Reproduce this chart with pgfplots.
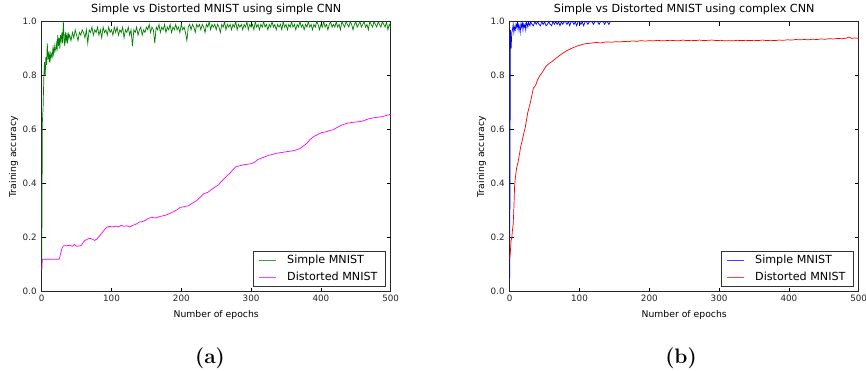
\documentclass[border=0pt]{standalone}
\usepackage{pgfplots}
\pgfplotsset{compat=1.18}
\usepackage{fontspec}
\newfontfamily\dejavu{DejaVu Sans}
\definecolor{mplgreen}{rgb}{0,0.5,0}
\definecolor{mplmag}{rgb}{1,0,1}
\definecolor{mplblue}{rgb}{0,0,1}
\definecolor{mplred}{rgb}{1,0,0}
\pgfplotsset{
  mnist/.style={
    scale only axis, width=349bp, height=270bp,
    xmin=0, xmax=500, ymin=0, ymax=1,
    xtick={0,100,200,300,400,500},
    ytick={0,0.2,0.4,0.6,0.8,1.0},
    minor tick num=0,
    tick align=inside, major tick length=4bp,
    every tick/.style={black, line width=0.6bp},
    axis line style={line width=0.8bp, black!85},
    /pgf/number format/assume math mode=true,
    yticklabel style={/pgf/number format/fixed, /pgf/number format/fixed zerofill, /pgf/number format/precision=1, xshift=-1.5bp},
    tick label style={font=\dejavu\fontsize{8.8}{10}\selectfont, black!85},
    label style={font=\dejavu\fontsize{9.3}{11}\selectfont},
    xlabel style={at={(axis description cs:0.5,-0.0956)}, anchor=base},
    ylabel style={at={(axis description cs:-0.0736,0.5)}, anchor=base},
    title style={at={(axis description cs:0.5,1.0126)}, anchor=base, inner sep=0pt, font=\dejavu\fontsize{11.2}{13}\selectfont},
    xlabel={Number of epochs}, ylabel={Training accuracy},
    legend cell align=left,
    legend image code/.code={\draw[line width=0.9bp, opacity=0.75] (0cm,0cm) -- (0.6cm,0cm);},
    legend style={at={(axis description cs:0.9857,0.0185)}, anchor=south east,
      font=\dejavu\fontsize{11.2}{13}\selectfont, draw=black!80, line width=0.8bp,
      inner xsep=5.5bp, inner ysep=2.5bp, row sep=3.2bp, column sep=8bp,
      nodes={inner xsep=2.3bp, inner ysep=1.5bp, text height=8.2bp, text depth=2.3bp}},
    every axis plot/.append style={line width=0.7bp, no markers},
  }
}
\begin{document}
\begin{tikzpicture}
\useasboundingbox (-41.7bp,-79.3bp) rectangle (824.3bp,291.7bp);
\begin{axis}[mnist, at={(0,0)}, anchor=south west,
  title={Simple vs Distorted MNIST using simple CNN}]
\addplot[mplgreen] coordinates {
(0,0.08)(1,0.63)(2,0.68)(3,0.79)(4,0.85)(5,0.80)(6,0.87)(7,0.84)(8,0.92)(9,0.86)
(10,0.88)(11,0.85)(12,0.89)(13,0.86)(14,0.88)(15,0.87)(16,0.90)(17,0.88)(18,0.91)(19,0.89)
(20,0.90)(21,0.92)(22,0.89)(23,0.95)(24,0.91)(25,0.94)(26,0.90)(27,0.95)(28,0.93)(29,0.96)
(30,0.92)(31,1.00)(32,0.94)(33,0.91)(34,0.96)(35,0.93)(36,0.95)(37,0.92)(38,0.96)(39,0.94)
(40,0.95)(42,0.93)(44,0.96)(46,0.94)(48,0.97)(50,0.95)(52,0.93)(54,0.96)(56,0.95)(58,0.97)
(60,0.96)(62,0.94)(64,0.97)(66,0.92)(68,0.97)(70,0.96)(72,0.98)(74,0.95)(76,0.97)(78,0.96)
(80,0.98)(82,0.95)(84,0.97)(86,0.94)(88,0.98)(90,0.96)(92,0.97)(94,0.95)(96,0.98)(98,0.96)
(100,0.97)(102,0.95)(104,0.98)(106,0.96)(108,0.98)(110,0.95)(112,0.97)(114,0.96)(116,0.98)(118,0.94)
(120,0.97)(122,0.96)(124,0.98)(126,0.95)(128,0.97)(130,0.91)(132,0.97)(134,0.96)(136,0.98)(138,0.95)
(140,0.97)(142,0.98)(144,0.95)(146,0.97)(148,0.96)(150,0.98)(152,0.97)(154,0.99)(156,0.96)(158,0.98)
(160,0.97)(162,0.92)(164,0.98)(166,0.97)(168,0.99)(170,0.96)(172,0.98)(174,0.97)(176,0.99)(178,0.96)
(180,0.98)(182,0.97)(184,0.99)(186,0.96)(188,0.98)(190,0.97)(192,0.99)(194,0.97)(196,0.98)(198,0.96)
(200,0.99)(202,0.97)(204,0.98)(206,0.96)(208,0.93)(210,0.98)(212,0.99)(214,0.97)(216,0.99)(218,0.98)
(220,0.96)(222,0.99)(224,0.98)(226,0.99)(228,0.97)(230,0.99)(232,0.98)(234,0.96)(236,0.99)(238,0.98)
(240,1.00)(242,0.97)(244,0.99)(246,0.98)(248,0.99)(250,0.97)(252,0.99)(254,0.98)(256,0.96)(258,0.99)
(260,0.98)(262,1.00)(264,0.97)(266,0.99)(268,0.98)(270,0.99)(272,0.97)(274,0.99)(276,0.98)(278,1.00)
(280,0.97)(282,0.99)(284,0.98)(286,0.99)(288,0.97)(290,0.99)(292,0.98)(294,1.00)(296,0.97)(298,0.99)
(300,0.98)(302,0.99)(304,0.97)(306,1.00)(308,0.98)(310,0.99)(312,0.97)(314,0.99)(316,0.98)(318,1.00)
(320,0.98)(322,0.99)(324,0.97)(326,0.99)(328,0.98)(330,1.00)(332,0.98)(334,0.99)(336,0.97)(338,0.99)
(340,0.98)(342,0.99)(344,0.97)(346,1.00)(348,0.98)(350,0.99)(352,0.97)(354,0.99)(356,0.98)(358,1.00)
(360,0.98)(362,0.99)(364,0.97)(366,0.99)(368,0.98)(370,1.00)(372,0.98)(374,0.99)(376,0.97)(378,0.99)
(380,0.98)(382,1.00)(384,0.98)(386,0.99)(388,0.97)(390,0.99)(392,0.98)(394,1.00)(396,0.99)(398,0.97)
(400,0.99)(402,0.98)(404,1.00)(406,0.98)(408,0.99)(410,0.97)(412,0.99)(414,1.00)(416,0.98)(418,0.99)
(420,0.98)(422,1.00)(424,0.98)(426,0.99)(428,0.97)(430,1.00)(432,0.99)(434,0.98)(436,1.00)(438,0.99)
(440,0.98)(442,1.00)(444,0.99)(446,0.97)(448,0.99)(450,1.00)(452,0.98)(454,0.99)(456,1.00)(458,0.98)
(460,0.99)(462,1.00)(464,0.98)(466,0.99)(468,0.97)(470,1.00)(472,0.99)(474,0.98)(476,1.00)(478,0.99)
(480,0.98)(482,1.00)(484,0.99)(486,0.98)(488,1.00)(490,0.99)(492,0.98)(494,1.00)(496,0.97)(498,0.99)
(500,0.98)
};
\addlegendentry{Simple MNIST}
\addplot[mplmag] coordinates {
(0,0.08)(1,0.12)(25,0.12)(27,0.14)(29,0.16)(31,0.17)(35,0.17)(40,0.172)(44,0.168)(47,0.175)
(50,0.168)(55,0.17)(57,0.172)(60,0.185)(62,0.19)(66,0.195)(69,0.198)(72,0.195)(76,0.19)(79,0.195)
(83,0.207)(87,0.22)(90,0.23)(93,0.238)(97,0.242)(102,0.24)(106,0.243)(110,0.24)(114,0.246)(118,0.242)
(122,0.244)(126,0.24)(130,0.245)(135,0.25)(140,0.258)(145,0.26)(149,0.265)(153,0.272)(158,0.275)(163,0.273)
(170,0.279)(177,0.283)(184,0.29)(190,0.298)(195,0.305)(198,0.312)(204,0.315)(210,0.318)(214,0.325)(217,0.33)
(222,0.337)(227,0.35)(232,0.363)(238,0.368)(243,0.378)(248,0.387)(253,0.395)(258,0.41)(262,0.42)(266,0.43)
(270,0.44)(274,0.452)(278,0.462)(283,0.466)(289,0.47)(295,0.472)(300,0.474)(305,0.48)(310,0.49)(315,0.495)
(320,0.5)(325,0.505)(330,0.508)(337,0.513)(345,0.516)(352,0.519)(358,0.521)(365,0.525)(370,0.53)(375,0.54)
(380,0.55)(385,0.565)(390,0.575)(396,0.583)(401,0.589)(407,0.592)(413,0.597)(418,0.6)(423,0.608)(428,0.615)
(433,0.62)(438,0.624)(445,0.627)(452,0.629)(458,0.631)(462,0.634)(468,0.64)(475,0.644)(481,0.646)(487,0.648)
(493,0.652)(500,0.657)
};
\addlegendentry{Distorted MNIST}
\end{axis}
\begin{axis}[mnist, at={(468bp,0)}, anchor=south west,
  title={Simple vs Distorted MNIST using complex CNN}]
\addplot[mplblue] coordinates {
(0,0.05)(1,0.97)(2,0.90)(3,0.96)(4,0.97)(5,0.99)(6,0.96)(7,0.98)(8,0.97)(9,0.99)
(10,0.98)(11,1.0)(12,0.97)(13,0.99)(14,0.98)(15,0.96)(16,0.99)(17,0.98)(18,1.0)(19,0.97)
(20,0.99)(21,0.98)(22,0.99)(23,0.97)(24,1.0)(25,0.99)(26,0.98)(27,1.0)(28,0.99)(29,0.985)
(30,1.0)(32,0.99)(34,0.985)(36,1.0)(38,0.99)(40,1.0)(42,0.99)(44,0.985)(46,1.0)(48,0.99)
(50,1.0)(52,0.985)(54,0.99)(56,1.0)(58,0.99)(60,0.985)(62,1.0)(64,0.99)(66,1.0)(68,0.99)
(70,1.0)(72,0.985)(74,1.0)(76,0.99)(78,1.0)(80,1.0)(82,0.99)(84,1.0)(86,0.985)(88,1.0)
(90,1.0)(92,0.99)(94,1.0)(96,0.985)(98,1.0)(100,1.0)(102,0.99)(104,1.0)(106,0.985)(108,1.0)
(110,1.0)(112,0.99)(114,1.0)(116,1.0)(118,1.0)(120,0.99)(122,1.0)(124,1.0)(126,1.0)(128,0.99)
(130,1.0)(132,1.0)(134,1.0)(136,0.99)(138,1.0)(140,1.0)(142,0.99)(144,1.0)
};
\addlegendentry{Simple MNIST}
\addplot[mplred] coordinates {
(0,0.12)(1,0.15)(2,0.19)(3,0.2)(4,0.23)(5,0.25)(6,0.31)(7,0.39)(8,0.42)(9,0.44)
(10,0.46)(12,0.48)(14,0.51)(16,0.54)(18,0.56)(20,0.585)(22,0.605)(24,0.635)(26,0.665)(28,0.685)
(30,0.705)(32,0.73)(34,0.755)(36,0.76)(38,0.77)(40,0.785)(43,0.8)(46,0.81)(49,0.822)(52,0.835)
(55,0.842)(58,0.848)(61,0.853)(64,0.86)(67,0.866)(70,0.872)(73,0.878)(76,0.883)(79,0.888)(82,0.893)
(86,0.898)(90,0.903)(94,0.907)(98,0.911)(102,0.914)(106,0.917)(110,0.919)(115,0.92)(120,0.922)(125,0.923)
(130,0.921)(135,0.924)(140,0.925)(146,0.924)(152,0.926)(158,0.925)(164,0.927)(170,0.926)(176,0.929)(182,0.927)
(188,0.93)(194,0.928)(200,0.93)(206,0.929)(212,0.931)(218,0.929)(224,0.93)(230,0.931)(236,0.93)(242,0.929)
(248,0.932)(254,0.93)(260,0.931)(266,0.93)(272,0.932)(278,0.93)(284,0.931)(290,0.932)(296,0.93)(302,0.931)
(308,0.929)(314,0.93)(320,0.929)(326,0.931)(332,0.93)(338,0.931)(344,0.93)(350,0.931)(356,0.93)(362,0.932)
(368,0.93)(374,0.931)(380,0.93)(386,0.932)(392,0.931)(398,0.933)(404,0.932)(410,0.934)(416,0.933)(422,0.934)
(428,0.933)(434,0.935)(440,0.934)(446,0.936)(452,0.935)(458,0.937)(464,0.936)(470,0.938)(476,0.937)(482,0.939)
(486,0.943)(490,0.938)(495,0.94)(500,0.938)
};
\addlegendentry{Distorted MNIST}
\end{axis}
\node[anchor=base] at (168.3bp,-71.3bp) {\fontsize{21}{25}\selectfont\bfseries (a)};
\node[anchor=base] at (639.3bp,-71.3bp) {\fontsize{21}{25}\selectfont\bfseries (b)};
\end{tikzpicture}
\end{document}
